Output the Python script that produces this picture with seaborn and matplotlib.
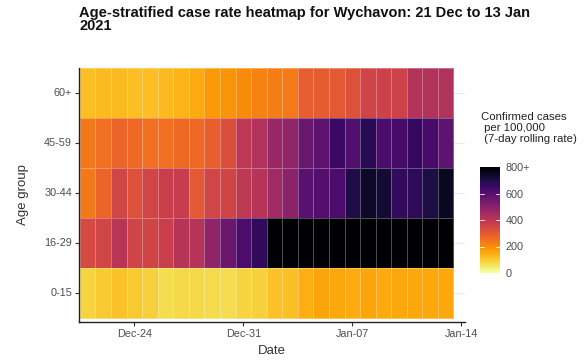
import numpy as np
import pandas as pd
import matplotlib
matplotlib.use("Agg")
import matplotlib.pyplot as plt
import seaborn as sns

# ---- data ----
start_date = "2020-12-21"
end_date = "2021-01-13"
age_groups = ["60+", "45-59", "30-44", "16-29", "0-15"]
rate_60plus = [120, 125, 125, 120, 120, 125, 135, 150, 180, 190, 205, 220,
               230, 235, 290, 295, 300, 320, 355, 360, 360, 415, 420, 420]
rate_45_59 = [240, 255, 275, 265, 255, 255, 265, 265, 290, 325, 395, 420,
              470, 485, 560, 590, 650, 610, 685, 620, 630, 660, 625, 590]
rate_30_44 = [240, 275, 350, 320, 350, 370, 375, 300, 350, 355, 395, 410,
              455, 495, 595, 605, 620, 700, 740, 725, 665, 675, 705, 750]
rate_16_29 = [340, 350, 405, 355, 355, 370, 410, 410, 490, 560, 620, 670,
              795, 798, 880, 920, 960, 1010, 1050, 1080, 1100, 1090, 1070, 1040]
rate_0_15 = [85, 100, 115, 100, 90, 70, 75, 75, 72, 70, 85, 88,
             115, 118, 145, 160, 155, 148, 160, 150, 155, 155, 155, 155]
x_tick_dates = ["2020-12-24", "2020-12-31", "2021-01-07", "2021-01-14"]
x_tick_labels = ["Dec-24", "Dec-31", "Jan-07", "Jan-14"]
cbar_ticks = [0, 200, 400, 600, 800]
cbar_labels = ["0", "200", "400", "600", "800+"]

dates = pd.date_range(start_date, end_date)
df = pd.DataFrame([rate_60plus, rate_45_59, rate_30_44, rate_16_29, rate_0_15],
                  index=age_groups, columns=dates)

sns.set_theme(style="white")
plt.rcParams["font.family"] = ["Liberation Sans", "DejaVu Sans"]

W, H = 586, 362
fig = plt.figure(figsize=(W / 100, H / 100), dpi=100)
ax = fig.add_axes([79 / W, 1 - 322 / H, (465 - 79) / W, (322 - 67.5) / H])
cax = fig.add_axes([480 / W, 1 - 273 / H, 20 / W, 106 / H])

ax.set_axisbelow(True)
ax.grid(axis="y", color="#EBEBEB", linewidth=0.8)

sns.heatmap(df, ax=ax, cmap="inferno_r", vmin=0, vmax=800,
            linewidths=0.4, linecolor=(1, 1, 1, 0.3),
            cbar_ax=cax, cbar_kws={"ticks": cbar_ticks})

ax.set_xlim(-0.06, 24.74)
ax.set_ylim(5.09, 0)

tick_pos = [(pd.Timestamp(d) - dates[0]).days + 0.5 for d in x_tick_dates]
ax.set_xticks(tick_pos)
ax.set_xticklabels(x_tick_labels, rotation=0)
ax.set_yticks(np.arange(len(age_groups)) + 0.5)
ax.set_yticklabels(age_groups, rotation=0)
ax.tick_params(axis="both", which="both", length=3, width=0.8,
               color="#333333", labelsize=7.8, labelcolor="#4D4D4D", pad=2,
               bottom=True, left=True)

for side in ["left", "bottom"]:
    ax.spines[side].set_visible(True)
    ax.spines[side].set_color("#222222")
    ax.spines[side].set_linewidth(1.0)
for side in ["top", "right"]:
    ax.spines[side].set_visible(False)

ax.set_xlabel("Date", fontsize=9.5, color="#333333", labelpad=4)
ax.set_ylabel("Age group", fontsize=9.5, color="#333333", labelpad=11)

# colorbar
cbar = ax.collections[0].colorbar
cbar.set_ticks(cbar_ticks)
cbar.set_ticklabels(cbar_labels)
cbar.outline.set_visible(False)
cax.tick_params(length=0, labelsize=7.8, labelcolor="#4D4D4D", pad=4)
for t in cbar_ticks[1:-1]:
    cax.plot([0, 0.2], [t, t], color="white", lw=0.6, transform=cax.get_yaxis_transform())
    cax.plot([0.8, 1], [t, t], color="white", lw=0.6, transform=cax.get_yaxis_transform())

fig.text(481 / W, 1 - 112 / H, "Confirmed cases\n per 100,000\n (7-day rolling rate)",
         fontsize=8.2, color="#222222", va="top", ha="left", linespacing=1.12)

fig.text(79 / W, 1 - 6 / H,
         "Age-stratified case rate heatmap for Wychavon: 21 Dec to 13 Jan\n2021",
         fontsize=10.5, fontweight="bold", color="#111111", va="top", ha="left",
         linespacing=0.88)

fig.savefig("out.png", dpi=100)
